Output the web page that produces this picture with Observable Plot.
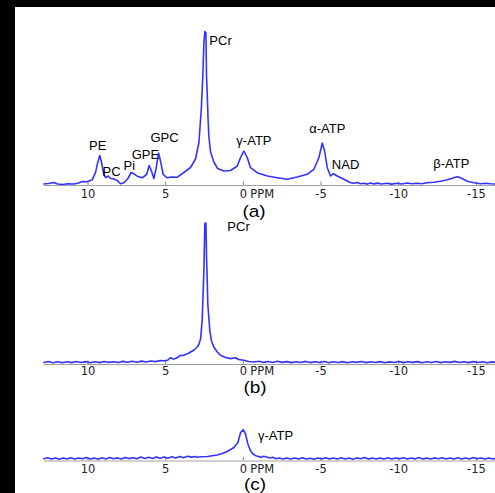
<!DOCTYPE html>
<html><head><meta charset="utf-8">
<script src="https://cdn.jsdelivr.net/npm/d3@7"></script>
<script src="https://cdn.jsdelivr.net/npm/@observablehq/plot@0.6"></script>
<style>
html,body{margin:0;padding:0;background:#000;}
#page{position:relative;width:495px;height:493px;background:#000;overflow:hidden}
#paper{position:absolute;left:15px;top:7px;width:480px;height:486px;background:#fff}
.panel{position:absolute;left:15px}
.panel svg{background:transparent}
.cap{position:absolute;font-family:"Liberation Sans",Arial,sans-serif;font-size:19px;color:#000;transform:translate(-50%,-50%) scaleY(0.82);white-space:nowrap;line-height:1}
</style></head><body>
<div id="page"><div id="paper"></div></div>
<script>
// x axis (chemical shift, ppm)
const xDomain = [12.8, -16.23];
const xTicks = [10, 5, 0, -5, -10, -15];

// (a) full spectrum
const ppmA = [12.84,12.54,12.20,11.96,11.64,11.31,10.91,10.61,10.37,10.05,9.73,9.51,9.37,9.24,9.13,8.98,8.87,8.70,8.55,8.37,8.12,7.90,7.69,7.43,7.22,7.05,6.83,6.51,6.23,6.06,5.91,5.76,5.61,5.46,5.33,5.16,4.90,4.62,4.25,3.83,3.40,3.08,2.86,2.71,2.61,2.54,2.48,2.41,2.37,2.32,2.27,2.22,2.11,1.90,1.66,1.26,0.82,0.39,0.18,-0.03,-0.25,-0.46,-0.89,-1.54,-2.18,-2.83,-3.47,-4.11,-4.54,-4.86,-5.08,-5.23,-5.40,-5.61,-5.79,-6.04,-6.47,-6.90,-7.09,-7.33,-7.54,-7.76,-7.99,-8.19,-8.41,-8.62,-8.90,-9.26,-9.54,-9.91,-10.18,-10.55,-10.83,-11.19,-11.47,-11.84,-12.26,-12.69,-13.12,-13.55,-13.77,-13.98,-14.41,-14.84,-15.27,-15.59,-15.91,-16.23];
const intA = [0.5,1.0,2.0,0.5,0.0,0.8,0.5,1.5,3.0,2.7,4.7,12.3,22.3,29.0,22.0,10.0,7.0,8.5,6.0,5.7,4.0,0.7,1.7,6.0,12.0,10.7,8.3,6.7,10.0,19.0,13.3,6.0,16.7,31.5,23.3,10.0,6.7,7.5,7.3,12.0,17.0,25.5,42.0,75.0,108,142,153,152,108,88,65,48,32.5,22.5,16.0,13.5,14.0,18.5,27.0,33.5,27.0,16.8,11.8,8.5,6.8,5.2,7.5,10.2,15.2,26.8,41.5,33.5,16.8,8.5,10.8,8.5,5.2,1.8,1.2,2.0,0.8,1.2,0.4,1.5,0.6,1.4,0.5,1.2,0.4,1.3,0.5,1.5,0.7,1.2,0.8,1.7,2.3,3.3,4.7,6.7,7.7,6.7,3.3,1.7,0.7,1.3,0.8,0.5];
const namesA = ["PE","PC","Pi","GPE","GPC","PCr","γ-ATP","α-ATP","NAD","β-ATP"];
const namePpmA = [9.38,8.48,7.34,6.30,5.07,1.47,-0.68,-5.40,-6.58,-13.39];
const nameIntA = [39,13,19,30,46.5,144,44,55.7,20,20.7];

// (b) PCr only
const ppmB = [12.84,12.55,12.25,11.95,11.65,11.35,11.05,10.75,10.45,10.15,9.85,9.55,9.25,8.95,8.65,8.35,8.05,7.75,7.45,7.15,6.85,6.55,6.25,5.95,5.65,5.35,5.05,4.85,4.69,4.52,4.36,4.20,4.04,3.88,3.72,3.55,3.40,3.17,2.97,2.85,2.75,2.65,2.54,2.48,2.41,2.37,2.32,2.29,2.16,2.05,1.90,1.68,1.47,1.15,0.82,0.50,0.31,-0.03,-0.33,-0.68,-1.0,-1.3,-1.6,-1.9,-2.2,-2.5,-2.8,-3.1,-3.4,-3.7,-4.0,-4.3,-4.6,-4.9,-5.2,-5.5,-5.8,-6.1,-6.4,-6.7,-7.0,-7.3,-7.6,-7.9,-8.2,-8.5,-8.8,-9.1,-9.4,-9.7,-10.0,-10.3,-10.6,-10.9,-11.2,-11.5,-11.8,-12.1,-12.4,-12.7,-13.0,-13.3,-13.6,-13.9,-14.2,-14.5,-14.8,-15.1,-15.4,-15.7,-16.0,-16.23];
const intB = [0.5,1.5,0.3,1.2,0.2,1.3,0.4,1.5,0.5,1.4,0.3,1.2,0.4,1.5,0.6,1.3,0.5,1.6,0.7,1.8,0.8,1.9,1.0,2.0,1.4,2.5,2.2,3.0,5.3,4.0,4.5,6.0,7.7,7.5,8.5,9.5,11.0,13.0,16.0,19.0,24.4,42.7,92.7,139.5,140,106,80,59.4,32.7,22,16,11,7.7,5.5,4.4,5.3,3.5,2.7,1.5,1.0,1.8,0.6,1.5,0.5,1.7,0.6,1.4,0.4,1.3,0.5,1.6,0.4,1.2,0.5,1.5,0.3,1.2,0.5,1.4,0.3,1.3,0.6,1.5,0.4,1.2,0.5,1.4,0.3,1.1,0.5,1.5,0.4,1.2,0.6,1.4,0.3,1.3,0.5,1.5,0.4,1.2,0.6,1.6,0.5,1.3,0.4,1.4,0.5,1.2,0.3,1.1,0.6];
const namesB = ["PCr"];
const namePpmB = [0.31];
const nameIntB = [135.7];

// (c) γ-ATP only
const ppmC = [12.84,12.6,12.35,12.1,11.85,11.6,11.35,11.1,10.85,10.6,10.35,10.1,9.85,9.6,9.35,9.1,8.85,8.6,8.35,8.1,7.85,7.6,7.35,7.1,6.85,6.6,6.35,6.1,5.85,5.6,5.35,5.1,4.85,4.6,4.35,4.1,3.85,3.6,3.35,3.1,2.97,2.7,2.32,2.0,1.68,1.36,1.04,0.82,0.61,0.35,0.18,0.01,-0.14,-0.29,-0.46,-0.62,-0.79,-1.0,-1.11,-1.3,-1.5,-1.7,-1.9,-2.1,-2.3,-2.55,-2.8,-3.05,-3.3,-3.55,-3.8,-4.05,-4.3,-4.55,-4.8,-5.05,-5.3,-5.55,-5.8,-6.05,-6.3,-6.55,-6.8,-7.05,-7.3,-7.55,-7.8,-8.05,-8.3,-8.55,-8.8,-9.05,-9.3,-9.55,-9.8,-10.05,-10.3,-10.55,-10.8,-11.05,-11.3,-11.55,-11.8,-12.05,-12.3,-12.55,-12.8,-13.05,-13.3,-13.55,-13.8,-14.05,-14.3,-14.55,-14.8,-15.05,-15.3,-15.55,-15.8,-16.05,-16.23];
const intC = [0.8,1.8,0.5,1.5,0.3,1.6,0.6,1.8,0.4,1.5,0.8,2.0,0.5,1.4,0.3,1.7,0.6,2.0,0.8,1.6,0.5,2.1,0.9,1.8,0.7,2.4,1.0,2.2,0.9,2.6,1.2,2.5,1.3,2.8,1.6,3.0,1.8,3.2,2.4,3.0,2.2,2.8,3.0,3.8,4.5,6.0,8.0,10.0,12.0,17.0,27.0,29.8,25.5,15.5,8.8,5.5,3.8,3.0,2.0,3.2,2.5,1.5,2.2,0.8,1.6,0.5,1.4,0.4,1.5,0.6,1.8,0.5,1.3,0.3,1.6,0.5,1.8,0.6,1.5,0.4,1.7,0.5,1.4,0.3,1.6,0.7,1.9,0.5,1.4,0.4,1.6,0.6,1.8,0.5,1.5,0.8,1.7,0.4,1.5,0.6,1.9,0.5,1.4,0.4,1.6,0.7,1.8,0.5,1.5,0.4,1.7,0.6,1.6,0.5,1.9,0.7,1.5,0.4,1.6,0.6,1.0];
const namesC = ["γ-ATP"];
const namePpmC = [-2.07];
const nameIntC = [23.8];

const captions = ["(a)", "(b)", "(c)"];

const page = document.getElementById("page");

function panel({ppm, val, names, namePpm, nameInt, yMin, yMax, top, height, marginTop, marginBottom, pad}) {
  const data = ppm.map((p, i) => ({ppm: p, v: val[i]}));
  const labels = names.map((n, i) => ({name: n, ppm: namePpm[i], v: nameInt[i]}));
  const chart = Plot.plot({
    width: 480, height, marginLeft: 29, marginRight: 0, marginTop, marginBottom,
    style: {background: "transparent", overflow: "visible", fontFamily: "'DejaVu Sans', sans-serif", fontSize: "11.5px"},
    x: {domain: xDomain},
    y: {domain: [yMin, yMax], axis: null},
    marks: [
      Plot.ruleY([yMin], {stroke: "#a0a0a0", strokeWidth: 1}),
      Plot.ruleX(xTicks, {x: d => d, y1: yMin, y2: yMin + 3.5, stroke: "#888"}),
      Plot.axisX({ticks: xTicks, tickSize: 0, tickPadding: pad, tickFormat: d => String(d), fill: "#222", fontSize: 11.5, label: null}),
      Plot.text(["PPM"], {x: [0], frameAnchor: "bottom", lineAnchor: "top", textAnchor: "start", dx: 7, dy: pad, fill: "#222", fontSize: 11.5}),
      Plot.line(data, {x: "ppm", y: "v", stroke: "#3333ff", strokeWidth: 1.6}),
      Plot.text(labels, {x: "ppm", y: "v", text: "name", fontSize: 13, fontFamily: "'Liberation Sans', Arial, sans-serif", fill: "#000"})
    ]
  });
  const div = document.createElement("div");
  div.className = "panel";
  div.style.top = top + "px";
  div.appendChild(chart);
  page.appendChild(div);
}

panel({ppm: ppmA, val: intA, names: namesA, namePpm: namePpmA, nameInt: nameIntA,
  yMin: -1, yMax: 161, top: 7, height: 200, marginTop: 16, marginBottom: 22, pad: 4.5});
panel({ppm: ppmB, val: intB, names: namesB, namePpm: namePpmB, nameInt: nameIntB,
  yMin: -1.5, yMax: 150, top: 207, height: 190, marginTop: 5.5, marginBottom: 33, pad: 2.5});
panel({ppm: ppmC, val: intC, names: namesC, namePpm: namePpmC, nameInt: nameIntC,
  yMin: -1.5, yMax: 40, top: 397, height: 80, marginTop: 22, marginBottom: 16.5, pad: 3.5});

const capPos = [[254, 212], [255, 388], [255, 485]];
captions.forEach((c, i) => {
  const d = document.createElement("div");
  d.className = "cap";
  d.textContent = c;
  d.style.left = capPos[i][0] + "px";
  d.style.top = capPos[i][1] + "px";
  page.appendChild(d);
});
</script>
</body></html>
